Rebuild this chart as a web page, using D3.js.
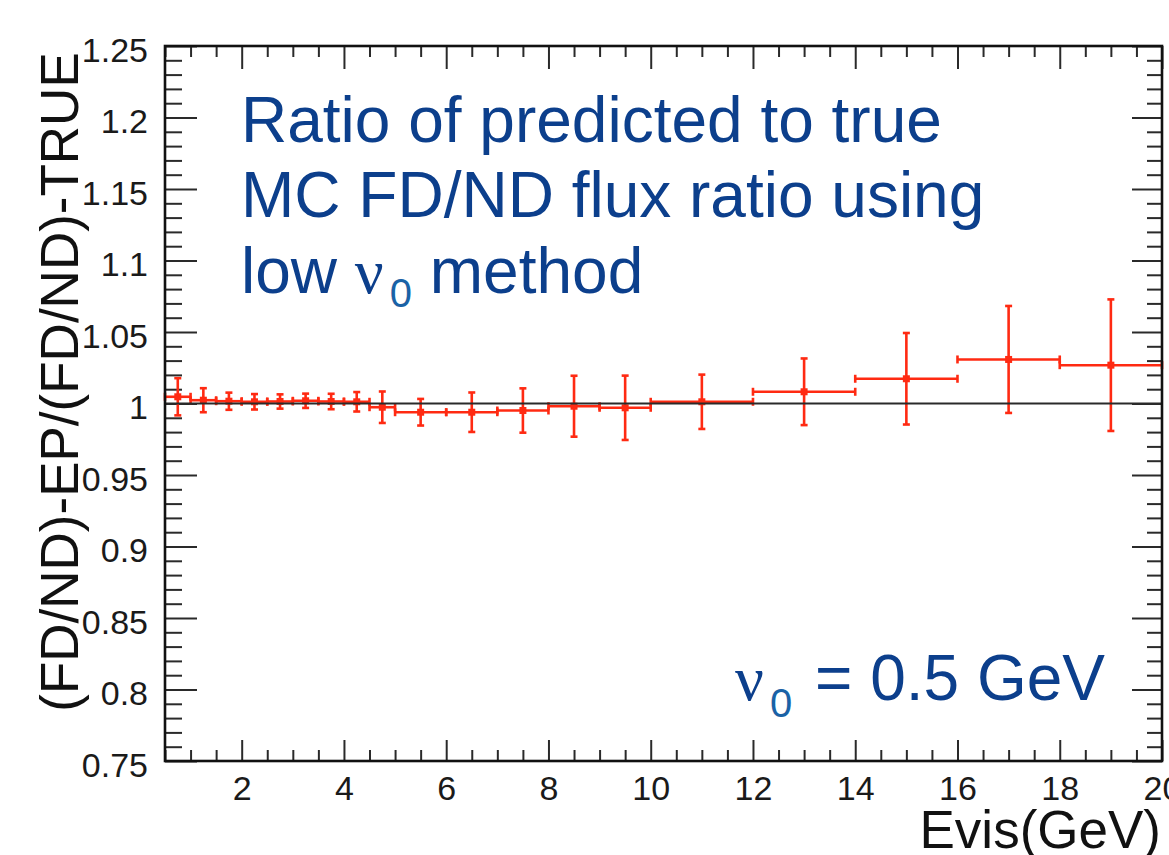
<!DOCTYPE html>
<html>
<head>
<meta charset="utf-8">
<script src="https://cdn.jsdelivr.net/npm/d3@7"></script>
<style>
	html, body { margin: 0; padding: 0; background: #fff; }
	svg { display: block; }
	text { font-family: "Liberation Sans", Arial, sans-serif; }
</style>
</head>
<body>
<svg id="chart" width="1169" height="855"></svg>
<script>
(function(){

	// bin edges (GeV) and the ratio in each bin, with its error
	const binEdges = [0.5, 1, 1.5, 2, 2.5, 3, 3.5, 4, 4.5, 5, 6, 7, 8, 9, 10, 12, 14, 16, 18, 20];
	const ratioValues = [1.0047, 1.0023, 1.0016, 1.0012, 1.0014, 1.0019, 1.0014, 1.0012, 0.9974, 0.9939,
		0.9939, 0.9951, 0.9981, 0.9970, 1.0012, 1.0082, 1.0173, 1.0308, 1.0268];
	const ratioErrors = [0.0130, 0.0084, 0.0060, 0.0054, 0.0050, 0.0050, 0.0054, 0.0068, 0.0110, 0.0093,
		0.0138, 0.0155, 0.0213, 0.0225, 0.0190, 0.0233, 0.0320, 0.0374, 0.0460];

	const xTicks = [2, 4, 6, 8, 10, 12, 14, 16, 18, 20];
	const xTickLabels = ["2", "4", "6", "8", "10", "12", "14", "16", "18", "20"];
	const yTicks = [0.75, 0.8, 0.85, 0.9, 0.95, 1, 1.05, 1.1, 1.15, 1.2, 1.25];
	const yTickLabels = ["0.75", "0.8", "0.85", "0.9", "0.95", "1", "1.05", "1.1", "1.15", "1.2", "1.25"];

	const textBlue = "#0c3f8c";
	const subBlue = "#1a62a6";
	const red = "#ff2a12";

	const left = 165, right = 1162, top = 46, bottom = 761;

	const svg = d3.select("#chart");

	const x = d3.scaleLinear().domain([0.5, 20]).range([left, right]);
	const y = d3.scaleLinear().domain([0.75, 1.25]).range([bottom, top]);

	const xMinor = d3.range(1, 40).map(function(i) { return 0.5 * i; }).filter(function(v) { return v % 2 != 0; });
	const yMinor = d3.range(75, 126).map(function(i) { return i / 100; }).filter(function(v) { return Math.round(v * 100) % 5 != 0; });

	function styleAxis(g) {
		g.select(".domain").remove();
		g.selectAll(".tick line").attr("stroke", "#2a2a2a").attr("stroke-width", 2);
	}

	// bottom axis
	svg.append("g").attr("transform", "translate(0," + bottom + ")")
		.call(d3.axisBottom(x).tickValues(xTicks).tickSize(-21).tickPadding(15)
			.tickFormat(function(d, i) { return xTickLabels[i]; }))
		.call(styleAxis)
		.selectAll("text").attr("font-size", 34).attr("fill", "#1a1a1a");
	svg.append("g").attr("transform", "translate(0," + bottom + ")")
		.call(d3.axisBottom(x).tickValues(xMinor).tickSize(-11).tickFormat(""))
		.call(styleAxis);

	// top axis
	svg.append("g").attr("transform", "translate(0," + top + ")")
		.call(d3.axisTop(x).tickValues(xTicks).tickSize(-23).tickFormat(""))
		.call(styleAxis);
	svg.append("g").attr("transform", "translate(0," + top + ")")
		.call(d3.axisTop(x).tickValues(xMinor).tickSize(-11).tickFormat(""))
		.call(styleAxis);

	// left axis
	svg.append("g").attr("transform", "translate(" + left + ",0)")
		.call(d3.axisLeft(y).tickValues(yTicks).tickSize(-32).tickPadding(17)
			.tickFormat(function(d, i) { return yTickLabels[i]; }))
		.call(styleAxis)
		.selectAll("text").attr("font-size", 34).attr("fill", "#1a1a1a").attr("dy", "0.45em");
	svg.append("g").attr("transform", "translate(" + left + ",0)")
		.call(d3.axisLeft(y).tickValues(yMinor).tickSize(-17).tickFormat(""))
		.call(styleAxis);

	// right axis
	svg.append("g").attr("transform", "translate(" + right + ",0)")
		.call(d3.axisRight(y).tickValues(yTicks).tickSize(-30).tickFormat(""))
		.call(styleAxis);
	svg.append("g").attr("transform", "translate(" + right + ",0)")
		.call(d3.axisRight(y).tickValues(yMinor).tickSize(-15).tickFormat(""))
		.call(styleAxis);

	// data points with error bars
	const bins = ratioValues.map(function(v, i) {
		return { x0: binEdges[i], x1: binEdges[i + 1], v: v, e: ratioErrors[i] };
	});

	const pts = svg.append("g").attr("stroke", red).attr("stroke-width", 2.6).attr("fill", red);
	const capH = 4, capW = 3.5, marker = 7;

	const pt = pts.selectAll("g.pt").data(bins).enter().append("g").attr("class", "pt");
	pt.append("line")
		.attr("x1", function(d) { return x(d.x0); }).attr("x2", function(d) { return x(d.x1); })
		.attr("y1", function(d) { return y(d.v); }).attr("y2", function(d) { return y(d.v); });
	pt.append("line")
		.attr("x1", function(d) { return x(d.x0); }).attr("x2", function(d) { return x(d.x0); })
		.attr("y1", function(d) { return y(d.v) - capH; }).attr("y2", function(d) { return y(d.v) + capH; });
	pt.append("line")
		.attr("x1", function(d) { return x(d.x1); }).attr("x2", function(d) { return x(d.x1); })
		.attr("y1", function(d) { return y(d.v) - capH; }).attr("y2", function(d) { return y(d.v) + capH; });
	pt.append("line")
		.attr("x1", function(d) { return x((d.x0 + d.x1) / 2); }).attr("x2", function(d) { return x((d.x0 + d.x1) / 2); })
		.attr("y1", function(d) { return y(d.v - d.e); }).attr("y2", function(d) { return y(d.v + d.e); });
	pt.append("line")
		.attr("x1", function(d) { return x((d.x0 + d.x1) / 2) - capW; }).attr("x2", function(d) { return x((d.x0 + d.x1) / 2) + capW; })
		.attr("y1", function(d) { return y(d.v + d.e); }).attr("y2", function(d) { return y(d.v + d.e); });
	pt.append("line")
		.attr("x1", function(d) { return x((d.x0 + d.x1) / 2) - capW; }).attr("x2", function(d) { return x((d.x0 + d.x1) / 2) + capW; })
		.attr("y1", function(d) { return y(d.v - d.e); }).attr("y2", function(d) { return y(d.v - d.e); });
	pt.append("rect")
		.attr("stroke", "none")
		.attr("x", function(d) { return x((d.x0 + d.x1) / 2) - marker / 2; })
		.attr("y", function(d) { return y(d.v) - marker / 2; })
		.attr("width", marker).attr("height", marker);

	// reference line at 1
	svg.append("line")
		.attr("x1", left).attr("x2", right)
		.attr("y1", y(1)).attr("y2", y(1))
		.attr("stroke", "#2a2a2a").attr("stroke-width", 1.8);

	// frame
	svg.append("rect")
		.attr("x", left).attr("y", top)
		.attr("width", right - left).attr("height", bottom - top)
		.attr("fill", "none").attr("stroke", "#111").attr("stroke-width", 2.6);

	// axis titles
	svg.append("text")
		.attr("transform", "translate(78," + 382 + ") rotate(-90)")
		.attr("text-anchor", "middle")
		.attr("font-size", 53).attr("fill", "#111")
		.text("(FD/ND)-EP/(FD/ND)-TRUE");

	svg.append("text")
		.attr("x", 1161).attr("y", 848)
		.attr("text-anchor", "end")
		.attr("font-size", 53).attr("fill", "#111")
		.text("Evis(GeV)");

	// annotation
	const note = svg.append("g").attr("fill", textBlue).attr("font-size", 64);
	note.append("text").attr("x", 241).attr("y", 142).text("Ratio of predicted to true");
	note.append("text").attr("x", 241).attr("y", 217).text("MC FD/ND flux ratio using");
	const l3 = note.append("text").attr("x", 241).attr("y", 293);
	l3.append("tspan").text("low ");
	l3.append("tspan").attr("font-family", "'Liberation Serif', serif").attr("font-size", 64).text("ν");
	l3.append("tspan").attr("font-size", 40).attr("fill", subBlue).attr("dx", 6).attr("dy", 14).text("0");
	l3.append("tspan").attr("dy", -14).text(" method");

	const nu = note.append("text").attr("x", 735).attr("y", 700);
	nu.append("tspan").attr("font-family", "'Liberation Serif', serif").attr("font-size", 64).text("ν");
	nu.append("tspan").attr("font-size", 40).attr("fill", subBlue).attr("dx", 6).attr("dy", 17).text("0");
	nu.append("tspan").attr("dx", 5).attr("dy", -17).text(" = 0.5 GeV");

}());
</script>
</body>
</html>
